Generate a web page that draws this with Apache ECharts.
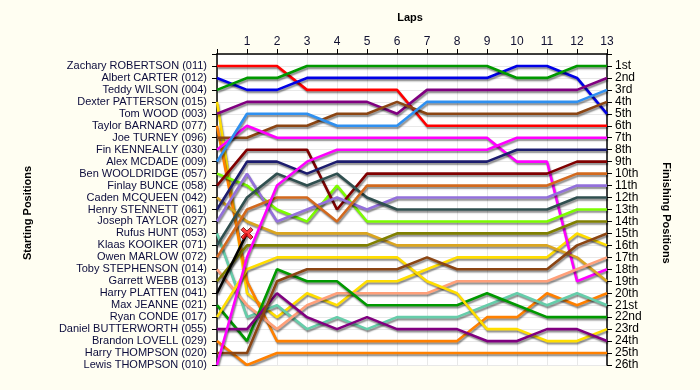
<!DOCTYPE html>
<html>
<head>
<meta charset="utf-8">
<script src="https://cdn.jsdelivr.net/npm/echarts@6/dist/echarts.min.js"></script>
<style>
html,body{margin:0;padding:0;background:#fffef2;}
#c{width:700px;height:390px;}
</style>
</head>
<body>
<div id="c"></div>
<script>
// ---- Data ----
const lapTicks = [0,1,2,3,4,5,6,7,8,9,10,11,12,13];
const startNames = [
  'Zachary ROBERTSON (011)','Albert CARTER (012)','Teddy WILSON (004)','Dexter PATTERSON (015)',
  'Tom WOOD (003)','Taylor BARNARD (077)','Joe TURNEY (096)','Fin KENNEALLY (030)',
  'Alex MCDADE (009)','Ben WOOLDRIDGE (057)','Finlay BUNCE (058)','Caden MCQUEEN (042)',
  'Henry STENNETT (061)','Joseph TAYLOR (027)','Rufus HUNT (053)','Klaas KOOIKER (071)',
  'Owen MARLOW (072)','Toby STEPHENSON (014)','Garrett WEBB (013)','Harry PLATTEN (041)',
  'Max JEANNE (021)','Ryan CONDE (017)','Daniel BUTTERWORTH (055)','Brandon LOVELL (029)',
  'Harry THOMPSON (020)','Lewis THOMPSON (010)'
];
const finishLabels = ['1st','2nd','3rd','4th','5th','6th','7th','8th','9th','10th','11th','12th','13th',
  '14th','15th','16th','17th','18th','19th','20th','21st','22nd','23rd','24th','25th','26th'];

// positions per lap (lap 0 = start)
const posZachary  = [1,1,1,3,3,3,3,6,6,6,6,6,6,6];
const posAlbert   = [2,3,3,2,2,2,2,2,2,2,1,1,2,5];
const posTeddy    = [3,2,2,1,1,1,1,1,1,1,2,2,1,1];
const posDexter   = [4,20,22,20,21,19,19,18,17,17,17,17,15,16];
const posTom      = [5,4,4,4,4,4,5,3,3,3,3,3,3,2];
const posTaylor   = [6,19,24,24,24,24,24,24,24,22,22,20,21,20];
const posJoe      = [7,7,6,6,5,5,4,5,5,5,5,5,5,4];
const posFin      = [8,6,7,7,7,7,7,7,7,7,9,9,19,18];
const posAlex     = [9,5,5,5,6,6,6,4,4,4,4,4,4,3];
const posBen      = [10,11,13,14,11,14,14,14,14,14,14,14,13,13];
const posFinlay   = [11,8,8,8,13,10,10,10,10,10,10,10,9,9];
const posCaden    = [12,14,15,15,15,15,16,16,16,16,16,16,17,19];
const posHenry    = [13,9,9,10,9,9,9,9,9,9,8,8,8,8];
const posJoseph   = [14,10,14,13,12,13,12,12,12,12,12,12,11,11];
const posRufus    = [15,22,21,23,22,23,22,22,22,21,20,21,20,21];
const posKlaas    = [16,12,10,11,10,12,13,13,13,13,13,13,12,12];
const posOwen     = [17,13,12,12,14,11,11,11,11,11,11,11,10,10];
const posToby     = [18,21,23,21,20,20,20,20,19,19,19,19,18,17];
const posGarrett  = [19,16,16,16,16,16,15,15,15,15,15,15,14,14];
const posHarryP   = [20,15];
const posMax      = [21,24,18,19,19,21,21,21,21,20,21,22,22,22];
const posRyan     = [22,18,17,17,17,17,17,19,20,23,23,24,24,23];
const posDaniel   = [23,23,20,22,23,22,23,23,23,24,24,23,23,24];
const posBrandon  = [24,26,25,25,25,25,25,25,25,25,25,25,25,25];
const posHarryT   = [25,25,19,18,18,18,18,17,18,18,18,18,16,15];
const posLewis    = [26,17,11,9,8,8,8,8,8,8,7,7,7,7];

const driverPositions = [posZachary,posAlbert,posTeddy,posDexter,posTom,posTaylor,posJoe,posFin,
  posAlex,posBen,posFinlay,posCaden,posHenry,posJoseph,posRufus,posKlaas,posOwen,posToby,
  posGarrett,posHarryP,posMax,posRyan,posDaniel,posBrandon,posHarryT,posLewis];
const driverColors = ['#ff0000','#0000e6','#009900','#ffdd00','#800080','#ff8000','#8b4513','#ff00ff',
  '#2f90f0','#7cfc00','#800000','#daa520','#1c1c6e','#9370db','#66cdaa','#2f4f4f',
  '#d2691e','#ffa07a','#808000','#000000','#009900','#ffdd00','#800080','#ff8000','#8b4513','#ff00ff'];

// retirement marker (lap, position)
const retiredLap = [1];
const retiredPos = [15];

// ---- Chart ----
const chart = echarts.init(document.getElementById('c'), null, {renderer:'canvas'});
const labelFont = 'Liberation Sans, Arial, sans-serif';

const series = driverPositions.map((arr, i) => ({
  type: 'line',
  name: startNames[i],
  data: arr.map((p, lap) => [lapTicks[lap], p]),
  symbol: 'none',
  silent: true,
  animation: false,
  z: 3,
  lineStyle: {
    color: driverColors[i], width: 2.6,
    shadowColor: 'rgba(0,0,0,0.45)', shadowBlur: 1.5, shadowOffsetX: 1, shadowOffsetY: 2
  }
}));
series.push({
  type: 'scatter',
  data: retiredLap.map((l, i) => [l, retiredPos[i]]),
  symbol: 'path://M2,0 L5,3 L8,0 L10,2 L7,5 L10,8 L8,10 L5,7 L2,10 L0,8 L3,5 L0,2 Z',
  symbolSize: 12,
  z: 5,
  animation: false,
  itemStyle: { color: '#ff1010', borderColor: '#700000', borderWidth: 1 }
});

chart.setOption({
  backgroundColor: '#fffef2',
  animation: false,
  grid: { left: 217, right: 93, top: 54, bottom: 25, show: true, backgroundColor: '#ffffff', borderWidth: 0 },
  xAxis: {
    type: 'value', position: 'top', min: 0, max: 13, interval: 1,
    axisLine: { show: true, lineStyle: { color: '#000', width: 1.5 } },
    axisTick: { show: true, length: 5, lineStyle: { color: '#000' } },
    axisLabel: { color: '#101030', fontFamily: labelFont, fontSize: 12, margin: 6,
      formatter: v => v === 0 ? '' : String(v) },
    splitLine: { show: true, lineStyle: { color: '#e8e8e8', width: 1 } }
  },
  yAxis: [
    {
      type: 'value', position: 'left', inverse: true, min: 0, max: 26, interval: 1,
      axisLine: { show: true, lineStyle: { color: '#000', width: 1.5 } },
      axisTick: { show: true, length: 5, lineStyle: { color: '#000' } },
      axisLabel: { color: '#0c0c3c', fontFamily: labelFont, fontSize: 11, margin: 10,
        formatter: v => (v >= 1 && v <= startNames.length) ? startNames[v-1] : '' },
      splitLine: { show: true, lineStyle: { color: '#e8e8e8', width: 1 } }
    },
    {
      type: 'value', position: 'right', inverse: true, min: 0, max: 26, interval: 1,
      axisLine: { show: true, lineStyle: { color: '#000', width: 1.5 } },
      axisTick: { show: true, length: 5, lineStyle: { color: '#000' } },
      axisLabel: { color: '#000', fontFamily: labelFont, fontSize: 12, margin: 8,
        formatter: v => (v >= 1 && v <= finishLabels.length) ? finishLabels[v-1] : '' },
      splitLine: { show: false }
    }
  ],
  graphic: [
    { type: 'text', x: 410, y: 18, style: { text: 'Laps', font: 'bold 11px ' + labelFont, fill: '#000', textAlign: 'center', textVerticalAlign: 'middle' } },
    { type: 'text', x: 28, y: 213, rotation: Math.PI/2, style: { text: 'Starting Positions', font: 'bold 11px ' + labelFont, fill: '#000', textAlign: 'center', textVerticalAlign: 'middle' } },
    { type: 'text', x: 666, y: 213, rotation: -Math.PI/2, style: { text: 'Finishing Positions', font: 'bold 11px ' + labelFont, fill: '#000', textAlign: 'center', textVerticalAlign: 'middle' } }
  ],
  series: series
});
</script>
</body>
</html>
